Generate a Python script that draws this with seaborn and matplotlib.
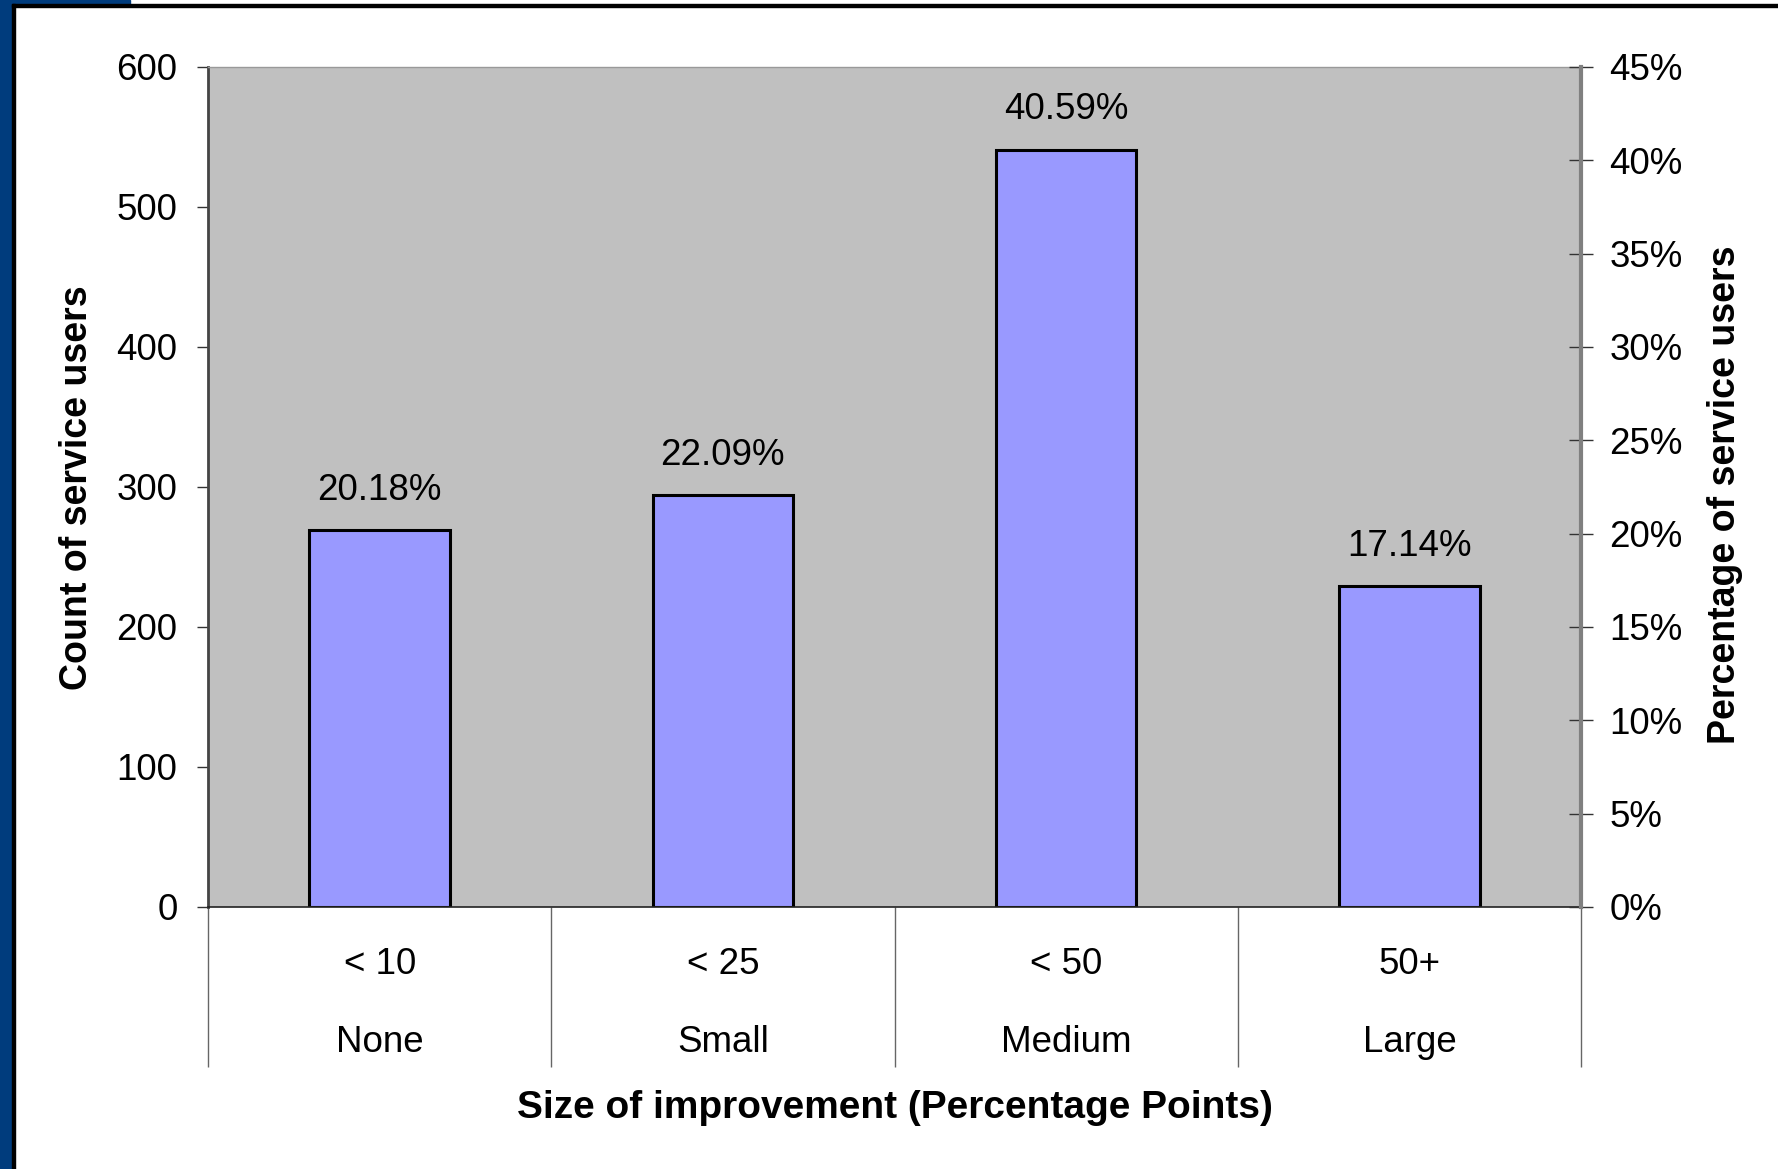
import numpy as np
import seaborn as sns
import matplotlib.pyplot as plt
from matplotlib.patches import Rectangle
from matplotlib.ticker import PercentFormatter

# values
bands = ["< 10", "< 25", "< 50", "50+"]
sizes = ["None", "Small", "Medium", "Large"]
counts = [269, 294, 541, 229]
pct = [20.18, 22.09, 40.59, 17.14]
count_ticks = [0, 100, 200, 300, 400, 500, 600]
pct_ticks = [0, 0.05, 0.10, 0.15, 0.20, 0.25, 0.30, 0.35, 0.40, 0.45]

sns.set_style("white")
plt.rcParams['font.family'] = ['Liberation Sans', 'DejaVu Sans']
plt.rcParams['text.color'] = 'black'
plt.rcParams['axes.labelcolor'] = 'black'
plt.rcParams['xtick.color'] = 'black'
plt.rcParams['ytick.color'] = 'black'

W, H = 1778, 1169
fig = plt.figure(figsize=(W / 100, H / 100), dpi=100)
ax = fig.add_axes([208 / W, 1 - 907 / H, (1581 - 208) / W, (907 - 67) / H])
ax.set_facecolor('#C0C0C0')

sns.barplot(x=bands, y=counts, color='#9999FF', edgecolor='black',
            linewidth=2.2, width=0.41, saturation=1, ax=ax)
ax.set_xlim(-0.5, 3.5)
ax.set_ylim(0, 600)
ax.set_yticks(count_ticks)
ax.set_xlabel('')
ax.set_ylabel('')

ax.tick_params(axis='y', labelsize=26.5, length=8, width=1, color='#333333',
               labelcolor='black', pad=14, direction='out', left=True)
ax.tick_params(axis='x', which='major', labelsize=26.5, length=0, pad=29,
               labelcolor='black')
ax.set_xticks(np.arange(len(bands) + 1) - 0.5, minor=True)
ax.tick_params(axis='x', which='minor', length=115, width=1, color='#666666',
               bottom=True, direction='out')

for side in ['left', 'right', 'top', 'bottom']:
    ax.spines[side].set_visible(True)
ax.spines['left'].set_color('#444444')
ax.spines['left'].set_linewidth(2)
ax.spines['bottom'].set_color('#222222')
ax.spines['bottom'].set_linewidth(1.2)
ax.spines['top'].set_color('#999999')
ax.spines['top'].set_linewidth(1)
ax.spines['right'].set_visible(False)

for i, s in enumerate(sizes):
    ax.annotate(s, xy=(i, 0), xycoords=('data', 'axes fraction'),
                textcoords='offset pixels', xytext=(0, -135),
                ha='center', va='center', fontsize=26.5, color='black')

ax.bar_label(ax.containers[0], labels=[f"{p:.2f}%" for p in pct],
             padding=16, fontsize=26.5, color='black')

ax2 = ax.twinx()
ax2.set_ylim(0, 0.45)
ax2.set_yticks(pct_ticks)
ax2.yaxis.set_major_formatter(PercentFormatter(1.0, decimals=0))
ax2.tick_params(axis='y', labelsize=26.5, length=17, width=1, color='#333333',
                labelcolor='black', direction='inout', pad=12, right=True)
for side in ['left', 'top', 'bottom']:
    ax2.spines[side].set_visible(False)
ax2.spines['right'].set_color('#808080')
ax2.spines['right'].set_linewidth(3)

fig.text(77 / W, 1 - 488 / H, 'Count of service users', rotation=90,
         ha='center', va='center', fontsize=27, fontweight='bold')
fig.text(1725 / W, 1 - 495 / H, 'Percentage of service users', rotation=90,
         ha='center', va='center', fontsize=27, fontweight='bold')
fig.text(895 / W, 1 - 1108 / H, 'Size of improvement (Percentage Points)',
         ha='center', va='center', fontsize=28, fontweight='bold')

# slide frame
fig.patches.append(Rectangle((0, 0), 12 / W, 1, transform=fig.transFigure,
                             color='#003C7D', zorder=5))
fig.patches.append(Rectangle((0, 1 - 5 / H), 130 / W, 5 / H,
                             transform=fig.transFigure, color='#003C7D', zorder=5))
fig.patches.append(Rectangle((12 / W, 0), 3 / W, 1 - 4 / H,
                             transform=fig.transFigure, color='black', zorder=6))
fig.patches.append(Rectangle((12 / W, 1 - 7 / H), 1 - 12 / W, 3 / H,
                             transform=fig.transFigure, color='black', zorder=6))

fig.savefig('out.png', dpi=100)
